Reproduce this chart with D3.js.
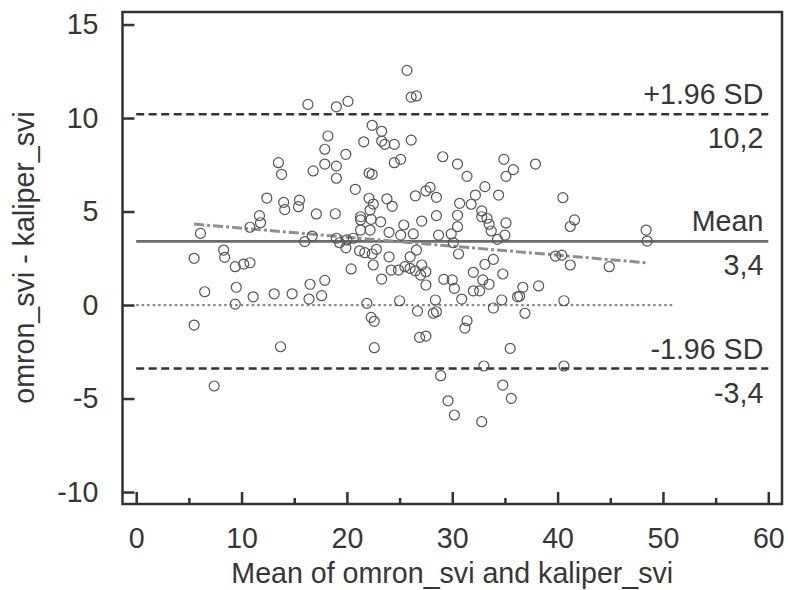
<!DOCTYPE html>
<html>
<head>
<meta charset="utf-8">
<script src="https://cdn.jsdelivr.net/npm/d3@7"></script>
<style>
    body { margin: 0; background: #fff; }
    text { font-family: "Liberation Sans", Arial, sans-serif; fill: #363636; }
</style>
</head>
<body>
<div id="chart"></div>
<script>
// mean of the two methods (x) and their difference (y)
var meanVals = [16.3,19.0,20.1,18.2,17.9,19.9,13.5,13.8,16.8,17.9,19.0,19.0,12.4,14.0,14.1,15.5,15.4,17.1,18.9,11.7,
    11.8,10.8,6.1,16.7,16.0,19.0,19.3,19.9,8.3,8.4,5.5,
    25.7,26.1,26.6,22.4,23.3,26.1,21.6,23.3,23.6,24.5,24.5,25.1,29.1,30.5,31.4,34.9,35.8,35.1,37.9,22.1,
    22.4,20.8,22.1,22.5,23.8,24.3,26.5,27.5,27.9,28.5,33.1,32.2,34.4,30.7,31.8,40.5,22.2,21.3,21.3,22.3,
    23.2,21.3,22.2,25.4,27.1,28.5,30.5,30.5,32.8,32.8,33.3,33.5,33.7,35.1,35.0,34.3,24.0,25.1,26.3,28.7,
    29.9,30.1,20.6,20.0,21.2,21.7,22.4,22.8,24.0,26.0,26.6,30.6,33.9,39.8,40.4,41.2,41.6,48.4,48.5,
    9.4,10.2,10.8,6.5,9.5,9.4,11.1,13.1,14.8,16.5,16.4,17.9,17.6,5.5,13.7,7.4,20.4,
    41.2,22.5,23.3,24.2,24.9,25.5,26.0,26.5,27.1,27.5,27.0,27.5,29.2,30.0,30.2,30.9,32.0,33.1,34.8,32.9,
    33.5,32.0,32.6,36.7,38.2,36.2,36.4,34.7,33.9,36.9,40.6,21.9,25.0,28.4,26.7,28.2,28.5,22.3,22.6,31.4,
    31.2,26.9,27.5,22.6,35.5,33.0,40.6,28.9,34.8,35.6,29.6,30.2,32.8,44.9];

var diffVals = [10.73,10.60,10.89,9.04,8.33,8.06,7.61,6.99,7.17,7.54,7.43,6.78,5.72,5.49,5.10,5.61,5.26,4.87,4.88,4.78,
    4.40,4.16,3.83,3.69,3.39,3.57,3.33,3.06,2.94,2.55,2.50,
    12.55,11.12,11.18,9.61,9.29,8.82,8.73,8.77,8.59,8.59,7.61,7.79,7.93,7.54,6.88,7.79,7.24,6.88,7.54,7.06,
    6.99,6.19,5.71,5.40,5.68,5.28,5.84,6.10,6.29,5.76,6.33,5.88,5.88,5.44,5.39,5.74,5.08,4.72,4.55,4.58,
    4.45,4.01,4.01,4.28,4.49,4.78,4.80,4.19,5.03,4.72,4.64,4.32,3.96,4.39,3.74,3.51,3.89,3.74,3.80,3.74,
    3.80,3.33,3.57,3.48,2.90,2.80,2.73,2.98,2.58,2.58,2.94,2.73,2.44,2.62,2.67,4.20,4.55,4.01,3.42,
    2.05,2.19,2.26,0.71,0.95,0.05,0.44,0.60,0.60,1.11,0.32,1.32,0.50,-1.07,-2.23,-4.33,1.93,
    2.14,2.14,1.39,1.87,1.87,2.05,1.96,1.83,2.14,1.78,1.60,1.07,1.37,1.34,0.89,0.32,1.75,2.18,1.66,1.34,
    1.11,0.76,0.76,0.95,1.02,0.44,0.48,0.27,-0.16,-0.44,0.23,0.09,0.23,0.27,-0.32,-0.44,-0.36,-0.66,-0.87,-0.84,
    -1.23,-1.73,-1.66,-2.28,-2.32,-3.26,-3.26,-3.78,-4.28,-4.99,-5.12,-5.88,-6.24,2.05];

var meanDiff = 3.4;
var upperLimit = 10.2;
var lowerLimit = -3.4;
var regressionX = [5.5, 48.4];
var regressionY = [4.33, 2.26];
var zeroLineEnd = 51.1;

var xTicks = [0, 10, 20, 30, 40, 50, 60];
var xMinorTicks = [5, 15, 25, 35, 45, 55];
var yTicks = [-10, -5, 0, 5, 10, 15];

function init() {
    var left = 122.5, top = 12;
    var w = 659.5;
    var h = 492;
    var fontSize = "28.6px";

    var svg = d3.select("#chart")
        .append("svg")
        .attr("width", 788)
        .attr("height", 590)
        .append("g")
        .attr("transform", "translate(" + left + "," + top + ")");

    var xScale = d3.scaleLinear()
        .domain([-1.3, 61.3])
        .range([0, w]);

    var yScale = d3.scaleLinear()
        .domain([-10.64, 15.67])
        .range([h, 0]);

    // reference lines
    function hLine(value, x0, x1, colour, width, dash) {
        svg.append("line")
            .attr("x1", xScale(x0))
            .attr("x2", xScale(x1))
            .attr("y1", yScale(value))
            .attr("y2", yScale(value))
            .attr("stroke", colour)
            .attr("stroke-width", width)
            .attr("stroke-dasharray", dash);
    }
    hLine(0, 0, zeroLineEnd, "#888", 2.3, "2.5 3");
    hLine(upperLimit, 0, 60, "#333", 2.5, "8 4.5");
    hLine(lowerLimit, 0, 60, "#333", 2.5, "8 4.5");
    hLine(meanDiff, 0, 60, "#6b6b6b", 2.8, null);

    // regression line
    svg.append("line")
        .attr("x1", xScale(regressionX[0]))
        .attr("y1", yScale(regressionY[0]))
        .attr("x2", xScale(regressionX[1]))
        .attr("y2", yScale(regressionY[1]))
        .attr("stroke", "#8f8f8f")
        .attr("stroke-width", 3)
        .attr("stroke-dasharray", "10 3 3 3");

    // points
    svg.selectAll(".pt")
        .data(meanVals)
        .enter()
        .append("circle")
        .attr("class", "pt")
        .attr("cx", function(d) { return xScale(d); })
        .attr("cy", function(d, i) { return yScale(diffVals[i]); })
        .attr("r", 5)
        .attr("fill", "none")
        .attr("stroke", "#555")
        .attr("stroke-width", 1.2);

    // labels for the lines
    function lineLabel(value, above, below) {
        svg.append("text")
            .attr("x", xScale(60) - 5)
            .attr("y", yScale(value) - 10)
            .attr("text-anchor", "end")
            .style("font-size", fontSize)
            .text(above);
        svg.append("text")
            .attr("x", xScale(60) - 5)
            .attr("y", yScale(value) + 34)
            .attr("text-anchor", "end")
            .style("font-size", fontSize)
            .text(below);
    }
    lineLabel(upperLimit, "+1.96 SD", "10,2");
    lineLabel(meanDiff, "Mean", "3,4");
    lineLabel(lowerLimit, "-1.96 SD", "-3,4");

    // frame
    svg.append("rect")
        .attr("width", w)
        .attr("height", h)
        .attr("fill", "none")
        .attr("stroke", "#333")
        .attr("stroke-width", 2.5);

    // axes, ticks pointing inward
    var plain = function(d) { return String(d); };
    var xAxis = d3.axisBottom(xScale).tickValues(xTicks).tickFormat(plain).tickSizeInner(-12).tickSizeOuter(0).tickPadding(24);
    var xMinor = d3.axisBottom(xScale).tickValues(xMinorTicks).tickSizeInner(-6).tickSizeOuter(0).tickFormat("");
    var yAxis = d3.axisLeft(yScale).tickValues(yTicks).tickFormat(plain).tickSizeInner(-12).tickSizeOuter(0).tickPadding(24);

    [svg.append("g").attr("transform", "translate(0," + h + ")").call(xAxis),
     svg.append("g").attr("transform", "translate(0," + h + ")").call(xMinor),
     svg.append("g").call(yAxis)].forEach(function(g) {
        g.select(".domain").remove();
        g.selectAll(".tick line").attr("stroke", "#333").attr("stroke-width", 2.5);
        g.selectAll(".tick text")
            .style("font-size", fontSize)
            .style("font-family", "'Liberation Sans', Arial, sans-serif")
            .attr("fill", "#363636");
    });

    // axis titles
    svg.append("text")
        .attr("x", w / 2)
        .attr("y", 571)
        .attr("text-anchor", "middle")
        .style("font-size", fontSize)
        .text("Mean of omron_svi and kaliper_svi");

    svg.append("text")
        .attr("transform", "translate(" + (-88.5) + "," + (h / 2 - 0.5) + ") rotate(-90)")
        .attr("text-anchor", "middle")
        .style("font-size", fontSize)
        .text("omron_svi - kaliper_svi");
}

window.onload = init;
</script>
</body>
</html>
